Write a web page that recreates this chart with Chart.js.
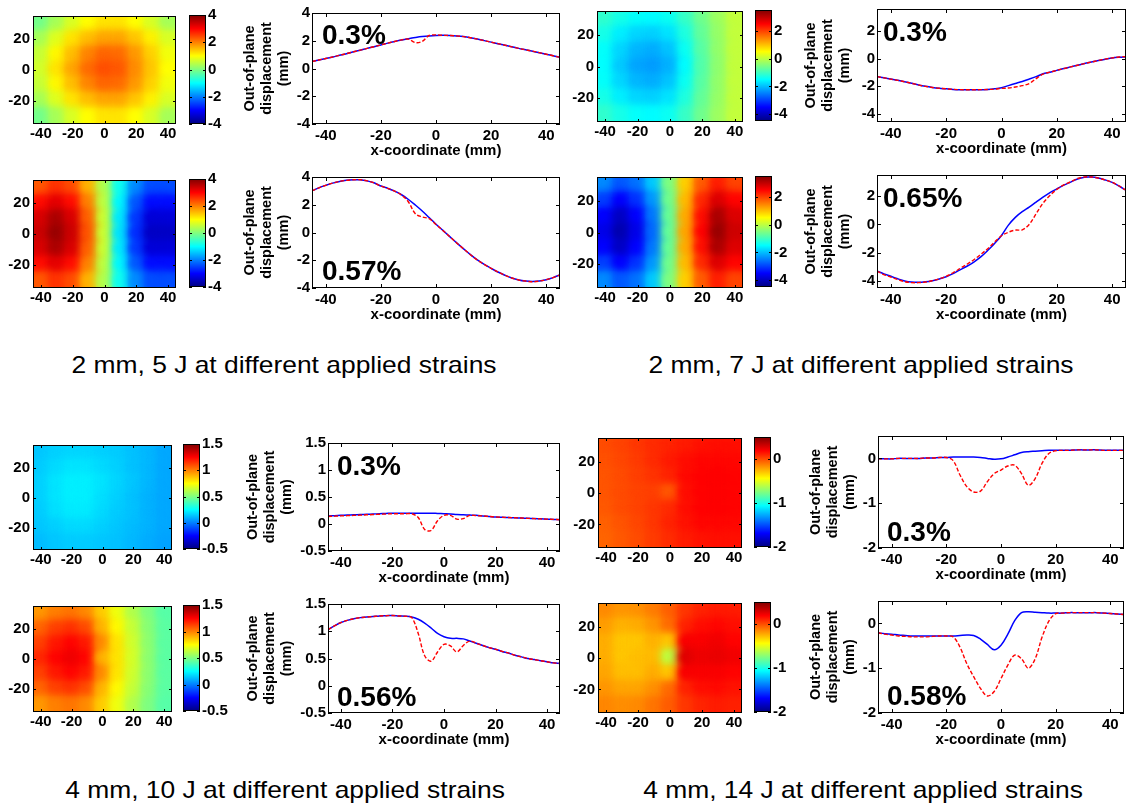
<!DOCTYPE html>
<html><head><meta charset="utf-8">
<script src="https://cdn.jsdelivr.net/npm/chart.js@4.4.1/dist/chart.umd.min.js"></script>
<style>
html,body{margin:0;padding:0;background:#fff;}
body{width:1128px;height:808px;position:relative;overflow:hidden;font-family:"Liberation Sans",Arial,sans-serif;}
canvas{position:absolute;}
.pct{position:absolute;font-weight:bold;font-size:28px;line-height:28px;color:#000;white-space:nowrap;}
.cap{position:absolute;font-size:24px;line-height:24px;color:#000;white-space:nowrap;transform:translate(-50%,-50%) scaleX(1.1);}
</style></head><body>
<script>
// ---------------- DATA ----------------
const xPos = [-45,-42.5,-40,-37.5,-35,-32.5,-30,-27.5,-25,-22.5,-20,-17.5,-15,-12.5,-10,-7.5,-5,-2.5,0,2.5,5,7.5,10,12.5,15,17.5,20,22.5,25,27.5,30,32.5,35,37.5,40,42.5,45];
const xTicks = [-40,-20,0,20,40];

// 2 mm, 5 J
const a1Blue = [0.5,0.61,0.72,0.83,0.95,1.07,1.2,1.32,1.45,1.57,1.7,1.83,1.95,2.06,2.15,2.23,2.3,2.35,2.38,2.39,2.38,2.35,2.3,2.22,2.12,2.01,1.9,1.79,1.68,1.56,1.45,1.35,1.25,1.14,1.03,0.92,0.8];
const a1Red  = [0.5,0.61,0.72,0.83,0.95,1.07,1.2,1.32,1.45,1.57,1.7,1.83,1.95,2.06,2.12,1.87,1.95,2.38,2.42,2.39,2.38,2.35,2.3,2.22,2.12,2.01,1.9,1.79,1.68,1.56,1.45,1.35,1.25,1.14,1.03,0.92,0.8];
const a2Blue = [3.0,3.22,3.4,3.56,3.68,3.76,3.8,3.8,3.72,3.58,3.35,3.18,2.98,2.72,2.38,1.98,1.55,1.08,0.6,0.15,-0.3,-0.75,-1.18,-1.6,-1.98,-2.3,-2.58,-2.85,-3.08,-3.28,-3.42,-3.5,-3.53,-3.5,-3.4,-3.25,-3.05];
const a2Red  = [3.0,3.22,3.4,3.56,3.68,3.76,3.8,3.8,3.72,3.58,3.35,3.18,2.98,2.7,2.2,1.35,1.12,1.0,0.58,0.15,-0.3,-0.75,-1.18,-1.6,-1.98,-2.3,-2.58,-2.85,-3.08,-3.28,-3.42,-3.5,-3.55,-3.5,-3.4,-3.25,-3.05];
// 2 mm, 7 J
const b1Blue = [-1.3,-1.39,-1.48,-1.57,-1.67,-1.78,-1.9,-2.0,-2.08,-2.14,-2.18,-2.22,-2.24,-2.25,-2.25,-2.24,-2.23,-2.18,-2.1,-1.95,-1.8,-1.65,-1.48,-1.3,-1.1,-0.98,-0.85,-0.72,-0.6,-0.48,-0.36,-0.25,-0.14,-0.05,0.04,0.09,0.12];
const b1Red  = [-1.3,-1.39,-1.48,-1.57,-1.67,-1.78,-1.9,-2.0,-2.08,-2.14,-2.18,-2.22,-2.24,-2.25,-2.25,-2.24,-2.23,-2.2,-2.15,-2.12,-2.05,-1.95,-1.8,-1.45,-1.12,-0.98,-0.85,-0.72,-0.6,-0.48,-0.36,-0.25,-0.14,-0.04,0.05,0.11,0.14];
const b2Blue = [-3.3,-3.5,-3.67,-3.85,-4.0,-4.08,-4.1,-4.06,-3.98,-3.86,-3.7,-3.48,-3.22,-2.96,-2.66,-2.3,-1.85,-1.35,-0.78,-0.05,0.5,0.9,1.22,1.58,1.93,2.25,2.52,2.78,3.0,3.22,3.34,3.35,3.28,3.15,2.98,2.72,2.42];
const b2Red  = [-3.3,-3.55,-3.72,-3.9,-4.05,-4.12,-4.12,-4.08,-3.98,-3.85,-3.67,-3.42,-3.12,-2.82,-2.5,-2.12,-1.72,-1.25,-0.8,-0.55,-0.4,-0.38,0.0,0.75,1.5,2.05,2.48,2.8,3.02,3.25,3.36,3.36,3.28,3.15,2.98,2.72,2.42];
// 4 mm, 10 J
const c1Blue = [0.15,0.155,0.16,0.165,0.17,0.175,0.18,0.185,0.19,0.195,0.2,0.2,0.2,0.2,0.2,0.2,0.2,0.195,0.19,0.185,0.175,0.17,0.165,0.16,0.15,0.14,0.13,0.125,0.12,0.115,0.11,0.105,0.1,0.095,0.09,0.085,0.08];
const c1Red  = [0.14,0.145,0.15,0.155,0.16,0.165,0.17,0.175,0.18,0.185,0.19,0.19,0.19,0.19,0.12,-0.1,-0.12,0.06,0.16,0.16,0.09,0.1,0.16,0.155,0.15,0.14,0.13,0.125,0.12,0.115,0.11,0.105,0.1,0.095,0.09,0.085,0.08];
const c2Blue = [1.03,1.1,1.16,1.2,1.23,1.25,1.26,1.27,1.28,1.285,1.29,1.28,1.275,1.26,1.22,1.15,1.06,0.96,0.9,0.87,0.87,0.86,0.82,0.78,0.74,0.7,0.67,0.63,0.6,0.56,0.53,0.5,0.48,0.46,0.44,0.42,0.41];
const c2Red  = [1.03,1.1,1.16,1.2,1.23,1.25,1.26,1.27,1.28,1.285,1.29,1.28,1.275,1.25,0.96,0.55,0.45,0.62,0.76,0.73,0.62,0.74,0.82,0.78,0.74,0.7,0.67,0.63,0.6,0.56,0.53,0.5,0.48,0.46,0.44,0.42,0.41];
// 4 mm, 14 J
const d1Blue = [-0.01,-0.01,-0.01,0.0,0.0,0.0,0.0,0.01,0.01,0.02,0.02,0.03,0.03,0.03,0.03,0.02,0.0,-0.02,-0.01,0.03,0.08,0.13,0.15,0.16,0.17,0.18,0.18,0.18,0.18,0.19,0.19,0.19,0.19,0.18,0.18,0.18,0.18];
const d1Red  = [-0.01,-0.01,-0.01,0.0,0.0,0.0,0.0,0.01,0.01,0.02,0.02,-0.05,-0.37,-0.63,-0.75,-0.73,-0.52,-0.34,-0.26,-0.17,-0.15,-0.34,-0.6,-0.45,-0.11,0.11,0.17,0.18,0.18,0.19,0.19,0.19,0.19,0.18,0.18,0.18,0.18];
const d2Blue = [-0.21,-0.23,-0.24,-0.26,-0.27,-0.28,-0.28,-0.28,-0.28,-0.28,-0.28,-0.28,-0.27,-0.26,-0.27,-0.35,-0.47,-0.59,-0.49,-0.24,0.06,0.24,0.26,0.25,0.24,0.23,0.23,0.23,0.24,0.24,0.24,0.24,0.24,0.23,0.22,0.21,0.2];
const d2Red  = [-0.21,-0.24,-0.26,-0.28,-0.29,-0.3,-0.3,-0.3,-0.29,-0.28,-0.28,-0.3,-0.53,-0.9,-1.19,-1.45,-1.62,-1.52,-1.23,-0.93,-0.71,-0.79,-1.0,-0.79,-0.31,0.05,0.22,0.23,0.24,0.24,0.24,0.24,0.24,0.23,0.22,0.21,0.2];

// contour maps: rows y = 30..-30, columns x = -40..40
const mapX = [-40,-30,-20,-10,0,10,20,30,40];
const mapY = [30,20,10,0,-10,-20,-30];
const mapXTicks = [-40,-20,0,20,40];
const mapYTicks = [-20,0,20];
const mapA1 = [
 [-0.1,0.3,0.7,1.0,1.2,1.2,1.0,0.7,0.3],
 [0.3,0.75,1.2,1.5,1.7,1.7,1.45,1.1,0.7],
 [0.55,1.05,1.5,1.95,2.2,2.15,1.8,1.35,0.9],
 [0.65,1.2,1.7,2.15,2.38,2.3,1.9,1.45,1.0],
 [0.55,1.05,1.5,1.95,2.2,2.15,1.8,1.35,0.9],
 [0.3,0.75,1.2,1.5,1.7,1.7,1.45,1.1,0.7],
 [-0.1,0.3,0.7,1.0,1.2,1.2,1.0,0.7,0.3]];
const mapA2 = [
 [2.3,2.6,2.4,1.6,0.4,-0.9,-1.9,-2.4,-2.4],
 [2.9,3.2,2.9,2.0,0.5,-1.05,-2.3,-2.9,-2.9],
 [3.3,3.65,3.3,2.25,0.6,-1.15,-2.55,-3.3,-3.3],
 [3.4,3.8,3.4,2.35,0.6,-1.2,-2.65,-3.45,-3.45],
 [3.3,3.65,3.3,2.25,0.6,-1.15,-2.55,-3.3,-3.3],
 [2.9,3.2,2.9,2.0,0.5,-1.05,-2.3,-2.9,-2.9],
 [2.3,2.6,2.4,1.6,0.4,-0.9,-1.9,-2.4,-2.4]];
const mapB1 = [
 [-1.1,-1.3,-1.45,-1.5,-1.4,-1.05,-0.6,-0.25,0.05],
 [-1.3,-1.6,-1.8,-1.85,-1.7,-1.25,-0.7,-0.3,0.05],
 [-1.45,-1.8,-2.05,-2.12,-1.95,-1.4,-0.78,-0.33,0.05],
 [-1.48,-1.9,-2.19,-2.26,-2.1,-1.5,-0.83,-0.36,0.05],
 [-1.45,-1.8,-2.05,-2.12,-1.95,-1.4,-0.78,-0.33,0.05],
 [-1.3,-1.6,-1.8,-1.85,-1.7,-1.25,-0.7,-0.3,0.05],
 [-1.1,-1.3,-1.45,-1.5,-1.4,-1.05,-0.6,-0.25,0.05]];
const mapB2 = [
 [-2.4,-2.8,-2.6,-1.9,-0.5,0.9,1.8,2.3,2.0],
 [-3.0,-3.5,-3.1,-2.3,-0.6,1.05,2.2,2.8,2.5],
 [-3.5,-3.95,-3.5,-2.55,-0.68,1.17,2.42,3.2,2.8],
 [-3.67,-4.12,-3.67,-2.66,-0.7,1.22,2.52,3.34,2.92],
 [-3.5,-3.95,-3.5,-2.55,-0.68,1.17,2.42,3.2,2.8],
 [-3.0,-3.5,-3.1,-2.3,-0.6,1.05,2.2,2.8,2.5],
 [-2.4,-2.8,-2.6,-1.9,-0.5,0.9,1.8,2.3,2.0]];
const mapC1 = [
 [0.14,0.16,0.17,0.17,0.16,0.15,0.13,0.11,0.08],
 [0.15,0.18,0.2,0.2,0.18,0.16,0.13,0.11,0.08],
 [0.16,0.2,0.22,0.22,0.2,0.17,0.14,0.11,0.08],
 [0.16,0.2,0.22,0.22,0.19,0.16,0.13,0.1,0.08],
 [0.15,0.19,0.21,0.21,0.18,0.15,0.13,0.1,0.08],
 [0.14,0.16,0.18,0.18,0.16,0.14,0.12,0.1,0.08],
 [0.12,0.14,0.15,0.15,0.14,0.13,0.11,0.09,0.07]];
const mapC2 = [
 [0.95,1.0,1.02,0.98,0.85,0.72,0.6,0.5,0.42],
 [1.05,1.12,1.15,1.1,0.9,0.76,0.64,0.52,0.43],
 [1.12,1.2,1.24,1.2,0.98,0.8,0.66,0.53,0.43],
 [1.17,1.24,1.28,1.24,0.9,0.8,0.67,0.53,0.43],
 [1.12,1.2,1.24,1.2,0.98,0.8,0.66,0.53,0.43],
 [1.05,1.12,1.15,1.1,0.9,0.76,0.64,0.52,0.43],
 [0.95,1.0,1.02,0.98,0.85,0.72,0.6,0.5,0.42]];
const mapD1 = [
 [0.0,0.02,0.05,0.08,0.1,0.12,0.14,0.15,0.15],
 [-0.01,0.01,0.04,0.08,0.12,0.15,0.17,0.17,0.17],
 [-0.02,0.0,0.03,0.06,0.1,0.16,0.18,0.19,0.18],
 [-0.02,0.0,0.02,0.03,-0.03,0.15,0.18,0.19,0.18],
 [-0.03,0.0,0.02,0.05,0.08,0.15,0.18,0.19,0.18],
 [-0.05,-0.02,0.01,0.05,0.1,0.14,0.17,0.17,0.17],
 [-0.06,-0.03,0.0,0.04,0.08,0.12,0.14,0.15,0.15]];
const mapD2 = [
 [-0.15,-0.18,-0.17,-0.12,-0.05,0.05,0.1,0.12,0.12],
 [-0.2,-0.25,-0.24,-0.18,-0.08,0.1,0.15,0.17,0.15],
 [-0.24,-0.3,-0.3,-0.25,-0.3,0.2,0.2,0.22,0.18],
 [-0.24,-0.3,-0.28,-0.27,-0.6,0.26,0.23,0.24,0.22],
 [-0.22,-0.28,-0.28,-0.24,-0.3,0.2,0.2,0.2,0.18],
 [-0.18,-0.22,-0.22,-0.17,-0.08,0.1,0.15,0.16,0.14],
 [-0.14,-0.16,-0.15,-0.1,-0.04,0.05,0.1,0.12,0.11]];

// colour ranges and ticks
const rangeA = [-4,4],       ticksA = [-4,-2,0,2,4];
const rangeB = [-4.5,3.54],  ticksB = [-4,-2,0,2];
const rangeC = [-0.5,1.5],   ticksC = [-0.5,0,0.5,1,1.5];
const rangeD = [-2,0.5],     ticksD = [-2,-1,0];
const lineRangeB1 = [-4.57,3.57], lineRangeB2 = [-4.5,3.5];

const strainLabels = ['0.3%','0.57%','0.3%','0.65%','0.3%','0.56%','0.3%','0.58%'];
const captions = ['2 mm, 5 J at different applied strains','2 mm, 7 J at different applied strains','4 mm, 10 J at different applied strains','4 mm, 14 J at different applied strains'];
const yTitle = ['Out-of-plane','displacement','(mm)'];
const xTitle = 'x-coordinate (mm)';

// ---------------- RENDERING ----------------
const FONT = "'Liberation Sans', Arial, sans-serif";
Chart.defaults.font.family = FONT;
Chart.defaults.color = '#000';
Chart.defaults.animation = false;

function clamp(v){return Math.max(0,Math.min(1,v));}
function jet(t){
  t = clamp(t);
  const r = clamp(1.5-Math.abs(4*t-3)), g = clamp(1.5-Math.abs(4*t-2)), b = clamp(1.5-Math.abs(4*t-1));
  return `rgb(${Math.round(r*255)},${Math.round(g*255)},${Math.round(b*255)})`;
}

const boxPlugin = {
  id:'box',
  afterDraw(chart, args, opts){
    if(!opts || !opts.enabled) return;
    const ctx = chart.ctx, a = chart.chartArea, L = opts.tick || 3;
    ctx.save();
    ctx.strokeStyle = '#000'; ctx.lineWidth = 1;
    ctx.beginPath();
    for (const s of Object.values(chart.scales)) {
      if (!s.options.display) continue;
      if (s.axis === 'x') {
        s.ticks.forEach(t=>{const p=Math.round(s.getPixelForValue(t.value))+0.5;
          ctx.moveTo(p,a.bottom); ctx.lineTo(p,a.bottom-L); ctx.moveTo(p,a.top); ctx.lineTo(p,a.top+L);});
      } else {
        s.ticks.forEach(t=>{const p=Math.round(s.getPixelForValue(t.value))+0.5;
          ctx.moveTo(a.left,p); ctx.lineTo(a.left+L,p); ctx.moveTo(a.right,p); ctx.lineTo(a.right-L,p);});
      }
    }
    ctx.stroke();
    ctx.strokeRect(Math.round(a.left)+0.5, Math.round(a.top)+0.5, Math.round(a.right-a.left)-1, Math.round(a.bottom-a.top)-1);
    ctx.restore();
  }
};
const blurPlugin = {
  id:'blurLayer',
  beforeDatasetDraw(chart,args,opts){ if(opts && opts.enabled && args.index < opts.layers){ chart.ctx.save(); chart.ctx.filter='blur('+opts.px+'px)'; } },
  afterDatasetDraw(chart,args,opts){ if(opts && opts.enabled && args.index < opts.layers){ chart.ctx.restore(); } }
};
Chart.register(boxPlugin, blurPlugin);

function mkCanvas(left, top, w, h){
  const c = document.createElement('canvas');
  c.width = w; c.height = h;
  c.style.left = left+'px'; c.style.top = top+'px';
  c.style.width = w+'px'; c.style.height = h+'px';
  document.body.appendChild(c);
  return c;
}
const tickFont = {size:15, weight:'bold'};
const setTicks = vals => s => { s.ticks = vals.map(v=>({value:v})); };

function lineChart(r, yRange, yTicks, blue, red, titleX){
  const padT = 12, padR = 3, padB = 36;
  const padL = Math.round(r.l - (titleX - 8.5));
  const cv = mkCanvas(r.l-padL, r.t-padT, (r.r-r.l)+padL+padR, (r.b-r.t)+padT+padB);
  new Chart(cv, {
    type:'line',
    data:{datasets:[
      {data:xPos.map((x,i)=>({x, y:red[i]})), borderColor:'#ff0000', borderDash:[4,2], borderWidth:1.4, pointRadius:0, tension:0.35, fill:false},
      {data:xPos.map((x,i)=>({x, y:blue[i]})), borderColor:'#0000ff', borderWidth:1.5, pointRadius:0, tension:0.35, fill:false}
    ]},
    options:{
      responsive:false, animation:false, devicePixelRatio:1, events:[],
      layout:{padding:{top:padT, right:padR, left:0, bottom:0}},
      plugins:{legend:{display:false}, tooltip:{enabled:false}, box:{enabled:true, tick:4}},
      scales:{
        x:{type:'linear', min:-45, max:45, afterBuildTicks:setTicks(xTicks), afterFit:s=>{s.height=padB;},
           grid:{display:false, drawTicks:false}, border:{display:false},
           ticks:{padding:3, font:tickFont, color:'#000', maxRotation:0, autoSkip:false, callback:v=>String(v)},
           title:{display:true, text:xTitle, font:{size:15, weight:'bold'}, padding:{top:0,bottom:0}, color:'#000'}},
        y:{type:'linear', min:yRange[0], max:yRange[1], afterBuildTicks:setTicks(yTicks), afterFit:s=>{s.width=padL;},
           grid:{display:false, drawTicks:false}, border:{display:false},
           ticks:{padding:2, font:tickFont, color:'#000', autoSkip:false, callback:v=>String(v)},
           title:{display:true, text:yTitle, font:{size:14.5, weight:'bold', lineHeight:17/14.5}, padding:{top:0,bottom:0}, color:'#000'}}
      }
    }
  });
}

function mapChart(r, grid, range){
  const padL = 40, padT = 10, padR = 6, padB = 24;
  const cv = mkCanvas(r.l-padL, r.t-padT, (r.r-r.l)+padL+padR, (r.b-r.t)+padT+padB);
  const cells = [];
  mapY.forEach((y,i)=>mapX.forEach((x,j)=>cells.push({x, y, v:grid[i][j]})));
  const color = c => { const d = c.raw; return d ? jet((d.v-range[0])/(range[1]-range[0])) : '#000'; };
  const radius = c => {
    const ch = c.chart, sx = ch.scales.x, sy = ch.scales.y;
    if (!sx || !sy) return 8;
    const w = Math.abs(sx.getPixelForValue(10)-sx.getPixelForValue(0));
    const h = Math.abs(sy.getPixelForValue(10)-sy.getPixelForValue(0));
    return (Math.max(w,h)/2 + 0.6) / Math.SQRT1_2;
  };
  const ds = () => ({data:cells, pointStyle:'rect', pointRadius:radius, pointBackgroundColor:color, pointBorderWidth:0, pointBorderColor:'rgba(0,0,0,0)', showLine:false, clip:0});
  new Chart(cv, {
    type:'scatter',
    data:{datasets:[ds(), ds(), ds()]},
    options:{
      responsive:false, animation:false, devicePixelRatio:1, events:[],
      layout:{padding:{top:padT, right:padR, left:0, bottom:0}},
      plugins:{legend:{display:false}, tooltip:{enabled:false}, box:{enabled:true, tick:3}, blurLayer:{enabled:true, px:5, layers:2}},
      scales:{
        x:{type:'linear', min:-45, max:45, afterBuildTicks:setTicks(mapXTicks), afterFit:s=>{s.height=padB;},
           grid:{display:false, drawTicks:false}, border:{display:false},
           ticks:{padding:1, font:tickFont, color:'#000', maxRotation:0, autoSkip:false, callback:v=>String(v)}},
        y:{type:'linear', min:-35, max:35, afterBuildTicks:setTicks(mapYTicks), afterFit:s=>{s.width=padL;},
           grid:{display:false, drawTicks:false}, border:{display:false},
           ticks:{padding:3, font:tickFont, color:'#000', autoSkip:false, callback:v=>String(v)}}
      }
    }
  });
}

function colorBar(r, range, ticks){
  const padT = 10, padB = 10, padR = 40;
  const cv = mkCanvas(r.l, r.t-padT, (r.r-r.l)+padR, (r.b-r.t)+padT+padB);
  new Chart(cv, {
    type:'bar',
    data:{labels:[''], datasets:[{data:[[range[0], range[1]]],
      backgroundColor:c=>{ const a=c.chart.chartArea; if(!a) return 'rgba(0,0,0,0)';
        const g=c.chart.ctx.createLinearGradient(0,a.bottom,0,a.top);
        [0,0.125,0.375,0.625,0.875,1].forEach(s=>g.addColorStop(s, jet(s))); return g; },
      barPercentage:1, categoryPercentage:1, borderWidth:0}]},
    options:{
      responsive:false, animation:false, devicePixelRatio:1, events:[],
      layout:{padding:{top:padT, bottom:padB, left:0, right:0}},
      plugins:{legend:{display:false}, tooltip:{enabled:false}, box:{enabled:true, tick:3}},
      scales:{
        x:{display:false},
        y:{position:'right', min:range[0], max:range[1], afterBuildTicks:setTicks(ticks), afterFit:s=>{s.width=padR;},
           grid:{display:false, drawTicks:false}, border:{display:false},
           ticks:{padding:2, font:tickFont, color:'#000', autoSkip:false, callback:v=>String(v)}}
      }
    }
  });
}

function label(text, x, cy){
  const d = document.createElement('div'); d.className='pct'; d.textContent=text;
  d.style.left = x+'px'; d.style.top = (cy-14)+'px'; document.body.appendChild(d);
}
function caption(text, cx, cy){
  const d = document.createElement('div'); d.className='cap'; d.textContent=text;
  d.style.left = cx+'px'; d.style.top = cy+'px'; document.body.appendChild(d);
}

// panel A: 2 mm, 5 J
mapChart({l:33,r:176,t:14,b:124}, mapA1, rangeA);
colorBar({l:189,r:206,t:14,b:125}, rangeA, ticksA);
lineChart({l:312,r:560,t:13,b:124}, rangeA, ticksA, a1Blue, a1Red, 250);
mapChart({l:33,r:176,t:178,b:288}, mapA2, rangeA);
colorBar({l:189,r:206,t:178,b:288}, rangeA, ticksA);
lineChart({l:312,r:560,t:177,b:288}, rangeA, ticksA, a2Blue, a2Red, 250);
// panel B: 2 mm, 7 J
mapChart({l:597,r:743,t:9,b:122}, mapB1, rangeB);
colorBar({l:755,r:772,t:9,b:122}, rangeB, ticksB);
lineChart({l:877,r:1126,t:9,b:122}, lineRangeB1, ticksB, b1Blue, b1Red, 811);
mapChart({l:597,r:743,t:175,b:288}, mapB2, rangeB);
colorBar({l:755,r:772,t:175,b:288}, rangeB, ticksB);
lineChart({l:877,r:1126,t:175,b:288}, lineRangeB2, ticksB, b2Blue, b2Red, 811);
// panel C: 4 mm, 10 J
mapChart({l:33,r:172,t:443,b:550}, mapC1, rangeC);
colorBar({l:183,r:200,t:443,b:550}, rangeC, ticksC);
lineChart({l:328,r:560,t:443,b:551}, rangeC, ticksC, c1Blue, c1Red, 253);
mapChart({l:33,r:172,t:604,b:712}, mapC2, rangeC);
colorBar({l:183,r:200,t:604,b:712}, rangeC, ticksC);
lineChart({l:328,r:560,t:604,b:713}, rangeC, ticksC, c2Blue, c2Red, 253);
// panel D: 4 mm, 14 J
mapChart({l:598,r:742,t:436,b:548}, mapD1, rangeD);
colorBar({l:754,r:771,t:436,b:548}, rangeD, ticksD);
lineChart({l:878,r:1124,t:436,b:548}, rangeD, ticksD, d1Blue, d1Red, 816);
mapChart({l:598,r:742,t:601,b:713}, mapD2, rangeD);
colorBar({l:754,r:771,t:601,b:713}, rangeD, ticksD);
lineChart({l:878,r:1124,t:601,b:713}, rangeD, ticksD, d2Blue, d2Red, 816);

// strain labels
[[322,35],[322,271],[883,32],[883,198],[337,466],[337,697],[887,532],[887,696]].forEach((p,i)=>label(strainLabels[i], p[0], p[1]));
// captions
[[284,365],[861,365],[285,790],[863,790]].forEach((p,i)=>caption(captions[i], p[0], p[1]));
</script>
</body></html>
